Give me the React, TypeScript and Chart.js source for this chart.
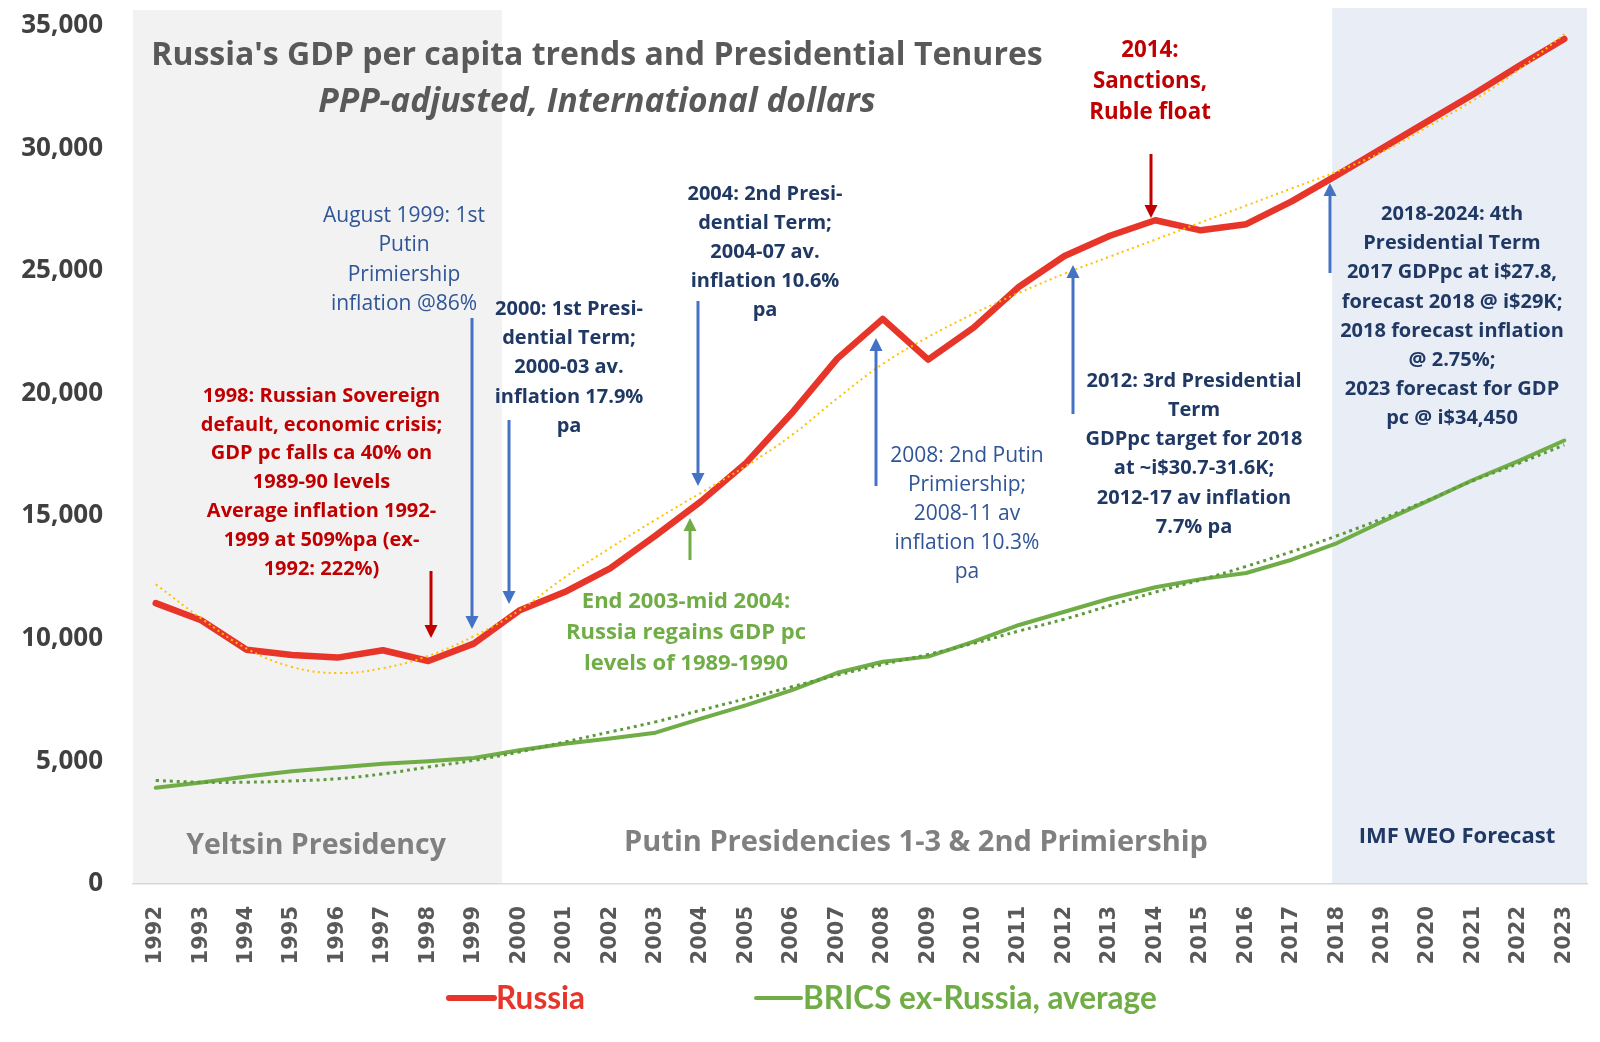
import React, { useEffect, useRef } from "react";
import { Chart, registerables } from "chart.js";

Chart.register(...registerables);

// ---------- data ----------
const years = [
  "1992", "1993", "1994", "1995", "1996", "1997", "1998", "1999",
  "2000", "2001", "2002", "2003", "2004", "2005", "2006", "2007",
  "2008", "2009", "2010", "2011", "2012", "2013", "2014", "2015",
  "2016", "2017", "2018", "2019", "2020", "2021", "2022", "2023",
];

const russia = [
  11450, 10750, 9550, 9340, 9230, 9530, 9090, 9800,
  11150, 11900, 12870, 14200, 15600, 17180, 19200, 21420,
  23040, 21380, 22680, 24350, 25600, 26430, 27060, 26650,
  26900, 27830, 28900, 30000, 31100, 32200, 33350, 34450,
];

const brics = [
  3920, 4140, 4380, 4600, 4750, 4900, 5000, 5140,
  5450, 5720, 5930, 6170, 6740, 7290, 7900, 8610,
  9060, 9270, 9880, 10560, 11100, 11640, 12100, 12430,
  12680, 13220, 13900, 14780, 15620, 16480, 17250, 18080,
];

const russiaTrend = [
  12220, 10830, 9600, 8850, 8600, 8800, 9300, 10100,
  11150, 12500, 13700, 14850, 15950, 17050, 18300, 19800,
  21200, 22300, 23250, 24100, 24880, 25580, 26270, 26970,
  27660, 28360, 29050, 29850, 30880, 31950, 33200, 34650,
];

const bricsTrend = [
  4220, 4150, 4150, 4200, 4290, 4490, 4770, 5040,
  5380, 5790, 6200, 6610, 7085, 7560, 8040, 8515,
  8950, 9360, 9810, 10315, 10800, 11350, 11900, 12400,
  12950, 13550, 14200, 14900, 15650, 16450, 17150, 17900,
];

const seriesNames = ["Russia", "BRICS ex-Russia, average"];
const yTicks = { min: 0, max: 35000, step: 5000 };

// shaded periods, in category-index units
const yeltsinEnd = 7.62;
const forecastStart = 25.89;

// ---------- layout / styling ----------
const W = 1600;
const H = 1042;
const SHADE_TOP = 10;

type Note = { lines: string[]; x: number; y: number; lh: number; font: string; color: string };

const NAVY = "#1F3864";
const BLUE = "#2F5597";
const DRED = "#C00000";
const GREEN = "#70AD47";
const OS = '"Open Sans"';

const notes: Note[] = [
  { lines: ["Russia's GDP per capita trends and Presidential Tenures"], x: 597, y: 56, lh: 0, font: `700 32px ${OS}`, color: "#595959" },
  { lines: ["PPP-adjusted, International dollars"], x: 597, y: 102, lh: 0, font: `italic 700 33.5px ${OS}`, color: "#595959" },
  { lines: ["August 1999: 1st", "Putin", "Primiership", "inflation @86%"], x: 404, y: 216, lh: 29.3, font: `400 21px ${OS}`, color: BLUE },
  { lines: ["2000: 1st Presi-", "dential Term;", "2000-03 av.", "inflation 17.9%", "pa"], x: 569, y: 309, lh: 29.3, font: `700 20px ${OS}`, color: NAVY },
  { lines: ["2004: 2nd Presi-", "dential Term;", "2004-07 av.", "inflation 10.6%", "pa"], x: 765, y: 194, lh: 29, font: `700 20px ${OS}`, color: NAVY },
  { lines: ["End 2003-mid 2004:", "Russia regains GDP pc", "levels of 1989-1990"], x: 686, y: 602, lh: 31, font: `700 22px ${OS}`, color: GREEN },
  { lines: ["2008: 2nd Putin", "Primiership;", "2008-11 av", "inflation 10.3%", "pa"], x: 967, y: 456, lh: 29, font: `400 21px ${OS}`, color: BLUE },
  { lines: ["2012: 3rd Presidential", "Term", "GDPpc target for 2018", "at ~i$30.7-31.6K;", "2012-17 av inflation", "7.7% pa"], x: 1194, y: 381, lh: 29.2, font: `700 20px ${OS}`, color: NAVY },
  { lines: ["2014:", "Sanctions,", "Ruble float"], x: 1150, y: 51, lh: 31, font: `700 22.3px ${OS}`, color: DRED },
  { lines: ["1998: Russian Sovereign", "default, economic crisis;", "GDP pc falls ca 40% on", "1989-90 levels", "Average inflation 1992-", "1999 at 509%pa (ex-", "1992: 222%)"], x: 321.5, y: 396, lh: 28.8, font: `700 20px ${OS}`, color: DRED },
  { lines: ["2018-2024: 4th", "Presidential Term", "2017 GDPpc at i$27.8,", "forecast 2018 @ i$29K;", "2018 forecast inflation", "@ 2.75%;", "2023 forecast for GDP", "pc @ i$34,450"], x: 1452, y: 214.5, lh: 29.1, font: `700 20px ${OS}`, color: NAVY },
  { lines: ["Yeltsin Presidency"], x: 316, y: 846, lh: 0, font: `700 28.5px ${OS}`, color: "#808080" },
  { lines: ["Putin Presidencies 1-3 & 2nd Primiership"], x: 916, y: 843, lh: 0, font: `700 29px ${OS}`, color: "#808080" },
  { lines: ["IMF WEO Forecast"], x: 1457, y: 837, lh: 0, font: `700 22px ${OS}`, color: NAVY },
];

type Arrow = { x: number; from: number; to: number; color: string };
const ABLUE = "#4472C4";
const arrows: Arrow[] = [
  { x: 472, from: 318, to: 629, color: ABLUE },
  { x: 509, from: 420, to: 604, color: ABLUE },
  { x: 698, from: 301, to: 486, color: ABLUE },
  { x: 690, from: 560, to: 518, color: GREEN },
  { x: 876, from: 486, to: 338, color: ABLUE },
  { x: 1073, from: 414, to: 265, color: ABLUE },
  { x: 1151, from: 154, to: 218, color: DRED },
  { x: 431, from: 571, to: 638, color: DRED },
  { x: 1330, from: 273, to: 183, color: ABLUE },
];

function drawArrow(ctx: CanvasRenderingContext2D, a: Arrow) {
  const dir = Math.sign(a.to - a.from);
  const head = 13;
  const half = 6.5;
  ctx.save();
  ctx.strokeStyle = a.color;
  ctx.fillStyle = a.color;
  ctx.lineWidth = 3;
  ctx.beginPath();
  ctx.moveTo(a.x, a.from);
  ctx.lineTo(a.x, a.to - dir * (head - 1));
  ctx.stroke();
  ctx.beginPath();
  ctx.moveTo(a.x, a.to);
  ctx.lineTo(a.x - half, a.to - dir * head);
  ctx.lineTo(a.x + half, a.to - dir * head);
  ctx.closePath();
  ctx.fill();
  ctx.restore();
}

const shadingPlugin = {
  id: "shading",
  beforeDraw(chart: any) {
    const { ctx, chartArea, scales } = chart;
    const x = scales.x;
    ctx.save();
    ctx.fillStyle = "#F2F2F2";
    const y0 = chartArea.left;
    const y1 = x.getPixelForValue(yeltsinEnd);
    ctx.fillRect(y0, SHADE_TOP, y1 - y0, chartArea.bottom - SHADE_TOP);
    ctx.fillStyle = "#E9EEF6";
    const f0 = x.getPixelForValue(forecastStart);
    ctx.fillRect(f0, SHADE_TOP - 2, chartArea.right - f0, chartArea.bottom - SHADE_TOP + 2);
    ctx.restore();
  },
};

const notesPlugin = {
  id: "notes",
  afterDraw(chart: any) {
    const ctx: CanvasRenderingContext2D = chart.ctx;
    ctx.save();
    ctx.textAlign = "center";
    ctx.textBaseline = "middle";
    for (const n of notes) {
      ctx.font = n.font;
      ctx.fillStyle = n.color;
      n.lines.forEach((l, i) => ctx.fillText(l, n.x, n.y + i * n.lh));
    }
    for (const a of arrows) drawArrow(ctx, a);

    // legend
    const ds = chart.data.datasets;
    const items = [
      { d: ds[2], x: 449, w: 6 },
      { d: ds[3], x: 756, w: 4 },
    ];
    const ly = 998;
    ctx.textAlign = "left";
    ctx.font = "700 31.5px Lato";
    for (const it of items) {
      ctx.strokeStyle = it.d.borderColor;
      ctx.lineWidth = it.w;
      ctx.lineCap = "round";
      ctx.beginPath();
      ctx.moveTo(it.x, ly);
      ctx.lineTo(it.x + 45, ly);
      ctx.stroke();
      ctx.fillStyle = it.d.borderColor;
      ctx.fillText(it.d.label, it.x + 47, ly + 1);
    }
    ctx.restore();
  },
};

export default function App() {
  const ref = useRef<HTMLCanvasElement | null>(null);

  useEffect(() => {
    if (!ref.current) return;
    const chart = new Chart(ref.current, {
      type: "line",
      data: {
        labels: years,
        datasets: [
          {
            label: "Russia trend",
            data: russiaTrend,
            borderColor: "#FFC000",
            borderWidth: 2,
            borderDash: [2, 3.5],
            pointRadius: 0,
            tension: 0.4,
            fill: false,
          },
          {
            label: "BRICS trend",
            data: bricsTrend,
            borderColor: "#5E9A3C",
            borderWidth: 3,
            borderDash: [3, 4],
            pointRadius: 0,
            tension: 0.4,
            fill: false,
          },
          {
            label: seriesNames[0],
            data: russia,
            borderColor: "#E8352A",
            borderWidth: 6.5,
            pointRadius: 0,
            tension: 0,
            borderJoinStyle: "round",
            borderCapStyle: "round",
            fill: false,
          },
          {
            label: seriesNames[1],
            data: brics,
            borderColor: "#70AD47",
            borderWidth: 4,
            pointRadius: 0,
            tension: 0,
            borderJoinStyle: "round",
            borderCapStyle: "round",
            fill: false,
          },
        ],
      },
      options: {
        responsive: false,
        animation: false,
        devicePixelRatio: 1,
        layout: { padding: { top: 25.5, right: 13, bottom: 58, left: 0 } },
        plugins: {
          legend: { display: false },
          tooltip: { enabled: false },
          title: { display: false },
        },
        scales: {
          x: {
            type: "category",
            offset: true,
            grid: { display: false, drawTicks: false },
            border: { display: true, color: "#D9D9D9", width: 1.5 },
            ticks: {
              autoSkip: false,
              maxRotation: 90,
              minRotation: 90,
              padding: 22,
              color: "#595959",
              font: { family: "DejaVu Sans", weight: "bold", size: 21 },
            },
            afterFit: (s: any) => {
              s.height = 100;
              s.paddingLeft = 0;
              s.paddingRight = 0;
              s.paddingTop = 0;
              s.paddingBottom = 0;
            },
          },
          y: {
            min: yTicks.min,
            max: yTicks.max,
            grid: { display: false, drawTicks: false },
            border: { display: false },
            ticks: {
              stepSize: yTicks.step,
              padding: 30,
              color: "#404040",
              font: { family: "Open Sans", weight: "bold", size: 26 },
              callback: (v: any) => Number(v).toLocaleString("en-US"),
            },
            afterFit: (s: any) => {
              s.width = 133;
              s.paddingTop = 0;
              s.paddingBottom = 0;
              s.paddingLeft = 0;
              s.paddingRight = 0;
            },
          },
        },
      },
      plugins: [shadingPlugin, notesPlugin],
    });

    let alive = true;
    const fonts = [
      `700 20px ${OS}`, `400 20px ${OS}`, `italic 700 30px ${OS}`,
      "700 31px Lato", '700 21px "DejaVu Sans"',
    ];
    Promise.all(fonts.map((f) => (document as any).fonts.load(f)))
      .then(() => { if (alive) chart.update(); })
      .catch(() => {});

    return () => {
      alive = false;
      chart.destroy();
    };
  }, []);

  return (
    <div style={{ position: "fixed", left: 0, top: 0, width: W, height: H, background: "#fff" }}>
      <canvas ref={ref} width={W} height={H} style={{ display: "block", width: W, height: H }} />
    </div>
  );
}
